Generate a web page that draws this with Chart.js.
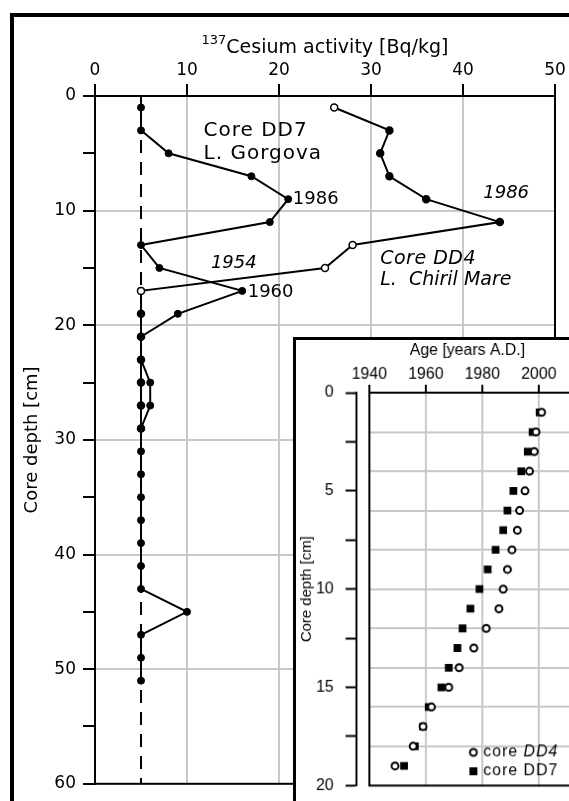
<!DOCTYPE html>
<html>
<head>
<meta charset="utf-8">
<title>137Cs perfiles DD7 / DD4</title>
<script src="https://cdn.jsdelivr.net/npm/chart.js@4.4.1/dist/chart.umd.min.js"></script>
<style>
	html, body { margin: 0; padding: 0; background: #fff; overflow: hidden; }
	body { width: 569px; height: 801px; position: relative; }
	#marco { position: absolute; left: 10px; top: 13px; width: 640px; height: 840px; border: 4px solid #000; }
	#principal { position: absolute; left: 0; top: 0; }
	#recuadro { position: absolute; left: 293px; top: 337px; background: #fff; border-left: 3px solid #000; border-top: 3px solid #000; }
</style>
</head>
<body>
<div id="marco"></div>
<canvas id="principal" width="569" height="801"></canvas>
<canvas id="recuadro" width="330" height="470"></canvas>

<script>
// --- datos grafico principal (profundidad cm / actividad Bq/kg) ---
var profDD7 = [1, 3, 5, 7, 9, 11, 13, 15, 17, 19, 21, 23, 25, 27, 29, 31, 33, 35, 37, 39, 41, 43, 45, 47, 49, 51];
var actDD7 = [5, 5, 8, 17, 21, 19, 5, 7, 16, 9, 5, 5, 6, 6, 5, 5, 5, 5, 5, 5, 5, 5, 10, 5, 5, 5];

var profDD4 = [1, 3, 5, 7, 9, 11, 13, 15, 17, 19, 21, 23, 25, 27, 29];
var actDD4 = [26, 32, 31, 32, 36, 44, 28, 25, 5, 5, 5, 5, 5, 5, 5];
var abiertoDD4 = [true, false, false, false, false, false, true, true, true, false, false, false, false, false, false];

var limite = 5; // linea discontinua
var ticksAct = [0, 10, 20, 30, 40, 50];
var ticksProf = [0, 5, 10, 15, 20, 25, 30, 35, 40, 45, 50, 55, 60];

// --- datos del recuadro (edad vs profundidad) ---
var profEdad = [1, 2, 3, 4, 5, 6, 7, 8, 9, 10, 11, 12, 13, 14, 15, 16, 17, 18, 19];
var edadDD4 = [2001, 1999, 1998.4, 1996.7, 1995.1, 1993.2, 1992.4, 1990.5, 1988.9, 1987.4, 1985.9, 1981.4, 1977, 1971.8, 1968.1, 1962, 1959, 1955.5, 1949.1];
var edadDD7 = [2000.3, 1997.8, 1996.1, 1993.8, 1991, 1988.9, 1987.4, 1984.7, 1981.9, 1979, 1975.8, 1973, 1971.2, 1968.1, 1965.5, 1961, 1959, 1956.1, 1952.3];
var ticksAnio = [1940, 1960, 1980, 2000, 2020];
var ticksProfRec = [0, 2.5, 5, 7.5, 10, 12.5, 15, 17.5, 20];
var gridProfRec = [0, 2, 4, 6, 8, 10, 12, 14, 16, 18, 20];

function puntos(xs, ys) {
	return xs.map(function (v, i) { return { x: v, y: ys[i] }; });
}
function fijarTicks(lista) {
	return function (s) { s.ticks = lista.map(function (v) { return { value: v }; }); };
}

var gris = '#c8c8c8';
var fuente = 'DejaVu Sans';
var fuente2 = 'Liberation Sans';

// caja completa del area de dibujo (lineas derecha e inferior)
var caja = {
	id: 'caja',
	afterDatasetsDraw: function (chart) {
		var a = chart.chartArea, c = chart.ctx;
		c.save();
		c.strokeStyle = '#000';
		c.lineWidth = 2;
		c.strokeRect(a.left, a.top, a.right - a.left, a.bottom - a.top);
		c.restore();
	}
};

// titulo del eje x con el 137 en superindice
var titulo = {
	id: 'titulo',
	afterDraw: function (chart) {
		var c = chart.ctx, a = chart.chartArea;
		var sup = '137', txt = 'Cesium activity [Bq/kg]';
		c.save();
		c.fillStyle = '#000';
		c.textAlign = 'left';
		c.textBaseline = 'middle';
		c.font = '13px "' + fuente + '"';
		var w1 = c.measureText(sup).width;
		c.font = '19px "' + fuente + '"';
		var w2 = c.measureText(txt).width;
		var x0 = (a.left + a.right) / 2 - (w1 + w2) / 2;
		c.fillText(txt, x0 + w1, 48);
		c.font = '13px "' + fuente + '"';
		c.fillText(sup, x0, 41);
		c.restore();
	}
};

// textos sobre las curvas
var notas = [
	{ t: 'Core DD7', x: 11.8, y: 3.0, size: 20, it: false, esp: 1 },
	{ t: 'L. Gorgova', x: 11.8, y: 5.0, size: 20, it: false, esp: 1 },
	{ t: '1986', x: 21.5, y: 9.0, size: 18, it: false, esp: 0 },
	{ t: '1960', x: 16.6, y: 17.1, size: 18, it: false, esp: 0 },
	{ t: '1954', x: 12.6, y: 14.6, size: 18, it: true, esp: 0 },
	{ t: '1986', x: 42.2, y: 8.5, size: 18, it: true, esp: 0 },
	{ t: 'Core DD4', x: 31, y: 14.2, size: 19, it: true, esp: 0.5 },
	{ t: 'L.  Chiril Mare', x: 31, y: 16.1, size: 19, it: true, esp: 0 }
];
var textos = {
	id: 'textos',
	afterDatasetsDraw: function (chart) {
		var c = chart.ctx, sx = chart.scales.x, sy = chart.scales.y;
		c.save();
		c.fillStyle = '#000';
		c.textAlign = 'left';
		c.textBaseline = 'middle';
		notas.forEach(function (n) {
			c.font = (n.it ? 'italic ' : '') + n.size + 'px "' + fuente + '"';
			c.letterSpacing = n.esp + 'px';
			c.fillText(n.t, sx.getPixelForValue(n.x), sy.getPixelForValue(n.y));
		});
		c.restore();
	}
};

var ctx = document.getElementById('principal').getContext('2d');
window.perfil = new Chart(ctx, {
	type: 'scatter',
	data: {
		datasets: [{
			label: 'DD4',
			data: puntos(actDD4, profDD4),
			showLine: true,
			borderColor: '#000',
			borderWidth: 2,
			pointRadius: 3.5,
			pointBorderWidth: 1.5,
			pointBorderColor: '#000',
			pointBackgroundColor: abiertoDD4.map(function (a) { return a ? '#fff' : '#000'; })
		}, {
			label: 'DD7',
			data: puntos(actDD7, profDD7),
			showLine: true,
			borderColor: '#000',
			borderWidth: 2,
			pointRadius: 3.5,
			pointBorderWidth: 1,
			pointBorderColor: '#000',
			pointBackgroundColor: '#000'
		}, {
			label: 'limite',
			data: [{ x: limite, y: 0 }, { x: limite, y: 60 }],
			showLine: true,
			borderColor: '#000',
			borderWidth: 2,
			borderDash: [13, 9],
			pointRadius: 0
		}]
	},
	options: {
		responsive: false,
		animation: false,
		layout: { padding: { left: 0, top: 0, right: 14, bottom: 15 } },
		plugins: { legend: { display: false }, tooltip: { enabled: false } },
		scales: {
			x: {
				type: 'linear',
				position: 'top',
				min: 0,
				max: 50,
				afterBuildTicks: fijarTicks(ticksAct),
				afterFit: function (s) { s.height = 96; },
				grid: {
					color: function (c) { return (c.tick && c.tick.value > 0 && c.tick.value < 50) ? gris : 'rgba(0,0,0,0)'; },
					lineWidth: 2,
					tickColor: '#000',
					tickLength: 12,
					tickWidth: 2
				},
				border: { color: '#000', width: 2 },
				ticks: { color: '#000', font: { family: fuente, size: 17 }, padding: 3 }
			},
			y: {
				type: 'linear',
				position: 'left',
				reverse: true,
				min: 0,
				max: 60,
				afterBuildTicks: fijarTicks(ticksProf),
				afterFit: function (s) { s.width = 95; },
				grid: {
					color: function (c) { var v = c.tick ? c.tick.value : 0; return (v % 10 === 0 && v > 0 && v < 60) ? gris : 'rgba(0,0,0,0)'; },
					lineWidth: 2,
					tickColor: '#000',
					tickLength: 12,
					tickWidth: 2
				},
				border: { color: '#000', width: 2 },
				ticks: {
					color: '#000',
					font: { family: fuente, size: 17 },
					padding: 7,
					callback: function (v) { return v % 10 === 0 ? v : ''; }
				},
				title: {
					display: true,
					text: 'Core depth [cm]',
					color: '#000',
					font: { family: fuente, size: 18 },
					padding: { top: 22, bottom: 0 }
				}
			}
		}
	},
	plugins: [caja, textos, titulo]
});

// recuadro: titulo del eje x y leyenda a mano (DD4 va en cursiva)
var extrasRec = {
	id: 'extrasRec',
	afterDatasetsDraw: function (chart) {
		var c = chart.ctx;
		c.save();
		c.fillStyle = '#000';
		c.textBaseline = 'middle';
		c.textAlign = 'center';
		c.font = '16px "' + fuente2 + '"';
		c.letterSpacing = '0px';
		c.fillText('Age [years A.D.]', 173, 11);

		// leyenda
		c.textAlign = 'left';
		c.strokeStyle = '#000';
		c.lineWidth = 2;
		c.beginPath();
		c.arc(179, 415, 3.5, 0, Math.PI * 2);
		c.fillStyle = '#fff';
		c.fill();
		c.stroke();
		c.fillStyle = '#000';
		c.fillRect(175, 430, 8, 8);
		c.letterSpacing = '1px';
		c.font = '16px "' + fuente2 + '"';
		c.fillText('core ', 189, 415);
		var w = c.measureText('core ').width;
		c.font = 'italic 16px "' + fuente2 + '"';
		c.fillText('DD4', 189 + w, 415);
		c.font = '16px "' + fuente2 + '"';
		c.fillText('core DD7', 189, 434);
		c.restore();
	}
};

var ctx2 = document.getElementById('recuadro').getContext('2d');
window.edades = new Chart(ctx2, {
	type: 'scatter',
	data: {
		datasets: [{
			label: 'core DD4',
			data: puntos(edadDD4, profEdad),
			pointStyle: 'circle',
			pointRadius: 3.5,
			pointBorderWidth: 2,
			pointBorderColor: '#000',
			pointBackgroundColor: '#fff'
		}, {
			label: 'core DD7',
			data: puntos(edadDD7, profEdad),
			pointStyle: 'rect',
			pointRadius: 5.5,
			pointBorderWidth: 0,
			pointBorderColor: '#000',
			pointBackgroundColor: '#000'
		}]
	},
	options: {
		responsive: false,
		animation: false,
		layout: { padding: { left: 0, top: 0, right: 28, bottom: 17 } },
		plugins: { legend: { display: false }, tooltip: { enabled: false } },
		scales: {
			x: {
				type: 'linear',
				position: 'top',
				min: 1940,
				max: 2020,
				afterBuildTicks: fijarTicks(ticksAnio),
				afterFit: function (s) { s.height = 53; },
				grid: {
					color: function (c) { return (c.tick && c.tick.value > 1940) ? gris : 'rgba(0,0,0,0)'; },
					lineWidth: 2,
					tickColor: '#000',
					tickLength: 8,
					tickWidth: 2
				},
				border: { color: '#000', width: 2 },
				ticks: {
					color: '#000',
					font: { family: fuente2, size: 16 },
					padding: 1,
					callback: function (v) { return String(v); }
				}
			},
			y: {
				type: 'linear',
				position: 'left',
				reverse: true,
				min: 0,
				max: 20,
				weight: 0,
				afterBuildTicks: fijarTicks(gridProfRec),
				afterFit: function (s) { s.width = 13; },
				grid: {
					color: function (c) { var v = c.tick ? c.tick.value : 0; return (v > 0 && v < 20) ? gris : 'rgba(0,0,0,0)'; },
					lineWidth: 2,
					drawTicks: false
				},
				border: { color: '#000', width: 2 },
				ticks: { display: false }
			},
			yEtiq: {
				type: 'linear',
				position: 'left',
				reverse: true,
				min: 0,
				max: 20,
				weight: 1,
				afterBuildTicks: fijarTicks(ticksProfRec),
				afterFit: function (s) { s.width = 61; },
				grid: {
					drawOnChartArea: false,
					tickColor: '#000',
					tickLength: 11,
					tickWidth: 2
				},
				border: { color: '#000', width: 2 },
				ticks: {
					color: '#000',
					font: { family: fuente2, size: 16 },
					padding: 12,
					callback: function (v) { return v % 5 === 0 ? v : ''; }
				},
				title: {
					display: true,
					text: 'Core depth [cm]',
					color: '#000',
					font: { family: fuente2, size: 15 },
					padding: { top: 2, bottom: 0 }
				}
			}
		}
	},
	plugins: [caja, extrasRec]
});
</script>
</body>
</html>
